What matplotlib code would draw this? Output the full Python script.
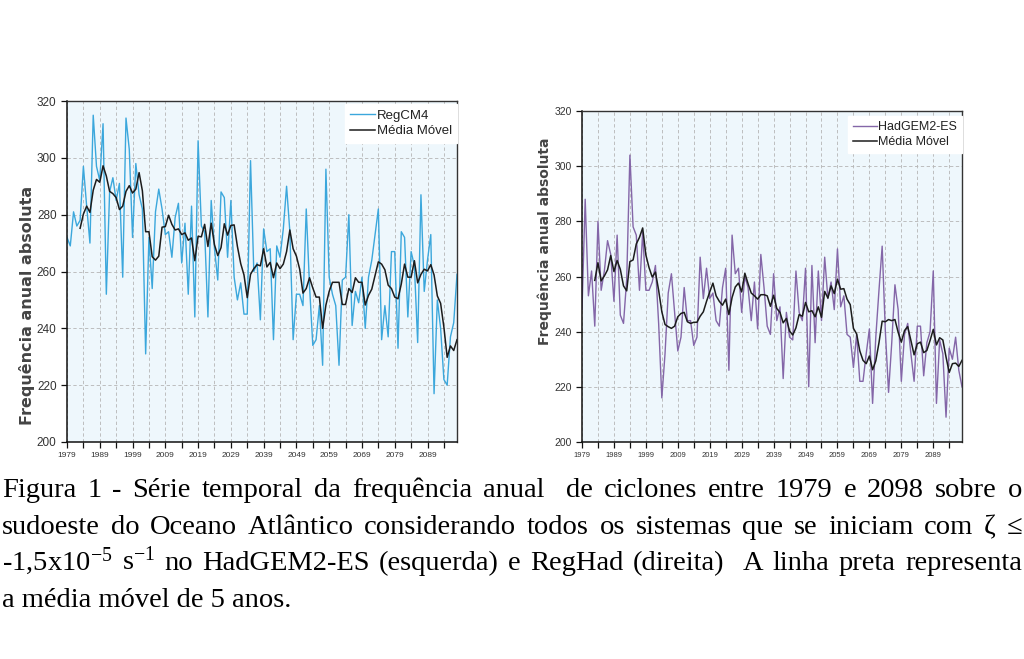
# -*- coding: utf-8 -*-
# Annual cyclone frequency, RegCM4 (left) and HadGEM2-ES (right), 1979-2098

import numpy as np
import pandas as pd
import matplotlib
matplotlib.use("Agg")
import matplotlib.pyplot as plt

plt.rcParams['mathtext.fontset'] = 'custom'
plt.rcParams['mathtext.rm'] = 'Liberation Serif'
plt.rcParams['mathtext.it'] = 'Liberation Serif:italic'
plt.rcParams['mathtext.bf'] = 'Liberation Serif:bold'

### 0 ### Data

years = list(range(1979, 2099))

regcm4 = [272, 269, 281, 276, 278, 297, 283, 270, 315, 297,
          292, 312, 252, 288, 293, 285, 291, 258, 314, 303,
          272, 298, 287, 282, 231, 272, 254, 281, 289, 282,
          273, 274, 265, 279, 284, 263, 277, 252, 283, 244,
          306, 276, 274, 244, 285, 268, 257, 288, 286, 265,
          285, 258, 250, 256, 245, 245, 299, 260, 263, 243,
          275, 267, 268, 236, 269, 265, 275, 290, 274, 236,
          252, 252, 248, 282, 255, 234, 236, 248, 227, 296,
          258, 252, 248, 227, 257, 258, 280, 241, 253, 249,
          258, 240, 258, 264, 273, 282, 236, 248, 237, 267,
          267, 233, 274, 272, 244, 267, 262, 235, 287, 253,
          264, 273, 217, 250, 240, 222, 220, 237, 242, 259]

hadgem = [248, 288, 253, 262, 242, 280, 255, 262, 273, 268,
          251, 275, 246, 243, 259, 304, 278, 275, 255, 276,
          255, 255, 258, 264, 243, 216, 232, 254, 261, 247,
          233, 238, 256, 244, 244, 235, 238, 267, 252, 263,
          252, 254, 244, 242, 256, 263, 226, 275, 261, 263,
          247, 260, 256, 244, 258, 241, 268, 256, 242, 239,
          261, 244, 249, 223, 247, 238, 237, 262, 247, 244,
          263, 220, 264, 236, 262, 244, 267, 252, 258, 248,
          270, 249, 253, 239, 238, 227, 239, 222, 222, 232,
          241, 214, 238, 255, 271, 240, 218, 236, 257, 248,
          222, 239, 243, 232, 222, 242, 242, 224, 236, 240,
          262, 214, 237, 232, 209, 234, 230, 238, 226, 220]

series_names = ["RegCM4", "HadGEM2-ES"]
ma_name = "Média Móvel"
ylabel = "Frequência anual absoluta"

caption = [
    ["Figura", "1", "-", "Série", "temporal", "da", "frequência", "anual", "", "de",
     "ciclones", "entre", "1979", "e", "2098", "sobre", "o"],
    ["sudoeste", "do", "Oceano", "Atlântico", "considerando", "todos", "os",
     "sistemas", "que", "se", "iniciam", "com", "ζ", "≤"],
    ["-1,5x$10^{-5}$", r"$\mathrm{s}^{-1}$", "no", "HadGEM2-ES", "(esquerda)", "e",
     "RegHad", "(direita)", "", "A", "linha", "preta", "representa"],
    ["a média móvel de 5 anos."],
]

### 1 ### Figure

W, H = 1024, 659
fig = plt.figure(figsize=(W / 100, H / 100), dpi=100)

sans = ['Liberation Sans']
label_font = ['DejaVu Sans']
serif = ['Liberation Serif', 'DejaVu Serif']


def panel(rect, values, color, name, ysize, xsize, labsize, legsize, lab_y, lab_x, leg_anchor):
    ax = fig.add_axes(rect)
    s = pd.Series(values, index=years)
    ma = s.rolling(5).mean()   # 5-year moving average, as in the caption

    ax.set_facecolor('#eef7fc')
    ax.plot(years, s.values, color=color, lw=1.0, label=name)
    ax.plot(years, ma.values, color='#1c1c1c', lw=1.1, label=ma_name)

    ax.set_xlim(1979, 2098)
    ax.set_ylim(200, 320)
    ax.set_yticks(range(200, 321, 20))
    xt = list(range(1979, 2099, 5))
    ax.set_xticks(xt)
    ax.set_xticklabels([str(y) if (y - 1979) % 10 == 0 else '' for y in xt])

    ax.grid(True, ls=(0, (4, 3)), color='#b5b5b5', lw=0.6)
    ax.set_axisbelow(True)
    for side in ['left', 'bottom']:
        ax.spines[side].set_color('#111111')
        ax.spines[side].set_linewidth(1.1)
    for side in ['top', 'right']:
        ax.spines[side].set_color('#333333')
        ax.spines[side].set_linewidth(1.0)

    ax.tick_params(axis='both', direction='out', length=4, width=0.9, color='#111111')
    ax.tick_params(axis='y', pad=3.5, labelsize=ysize, labelcolor='#333333')
    ax.tick_params(axis='x', pad=3, labelsize=xsize, labelcolor='#333333')
    for t in ax.get_yticklabels() + ax.get_xticklabels():
        t.set_family(sans)

    ax.set_ylabel(ylabel, fontsize=labsize, family=label_font, fontweight='bold',
                  color='#444444')
    ax.yaxis.set_label_coords(lab_x, lab_y)

    leg = ax.legend(loc='upper right', bbox_to_anchor=leg_anchor, frameon=True,
                    fancybox=False, framealpha=1, edgecolor='white', facecolor='white',
                    handlelength=1.9, handletextpad=0.1, labelspacing=0.25,
                    borderpad=0.4, borderaxespad=0,
                    prop={'family': sans, 'size': legsize})
    for t in leg.get_texts():
        t.set_color('#222222')
    return ax


# left panel (RegCM4)
panel([67 / W, 1 - 442 / H, 390 / W, 341 / H], regcm4, '#3ba7dc', series_names[0],
      8.5, 6, 11.5, 9.5, 0.40, -0.082, (1.0, 0.99))

# right panel (HadGEM2-ES)
panel([582 / W, 1 - 442 / H, 380 / W, 331 / H], hadgem, '#8466a8', series_names[1],
      7.5, 5.5, 10.0, 9.0, 0.606, -0.080, (1.0, 0.985))

### 2 ### Caption (justified lines)

cap_size = 20.5
renderer = fig.canvas.get_renderer()
baselines = [497, 534, 570, 607]
x0, x1 = 2, 1022

for words, base in zip(caption, baselines):
    y = 1 - base / H
    if len(words) == 1:
        fig.text(x0 / W, y, words[0], fontsize=cap_size, family=serif, va='baseline',
                 color='black')
        continue
    texts = []
    widths = []
    for w in words:
        if w == "":
            texts.append(None)
            widths.append(0.0)
        else:
            t = fig.text(0, y, w, fontsize=cap_size, family=serif, va='baseline',
                         color='black')
            texts.append(t)
            widths.append(t.get_window_extent(renderer).width)
    gap = (x1 - x0 - sum(widths)) / (len(words) - 1)
    x = x0
    for t, w in zip(texts, widths):
        if t is not None:
            t.set_x(x / W)
        x += w + gap

fig.savefig('out.png', dpi=100, facecolor='white')
